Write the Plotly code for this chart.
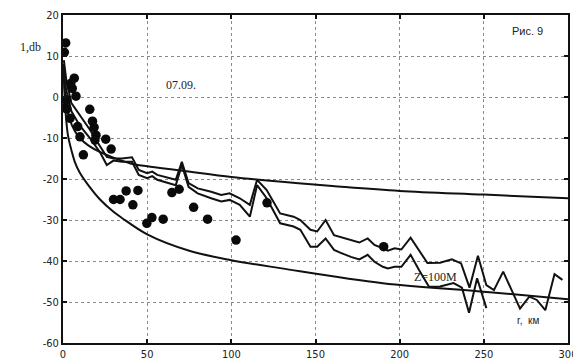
import plotly.graph_objects as go

# Measured points: distance r (km) and level (dB)
dots_r = [1.6, 0.8, 6.7, 4.6, 5.5, 7.7, 2.2, 1.2, 4.2, 15.9, 17.5, 18.5, 8.7, 10.1,
          19.6, 19.0, 25.4, 28.6, 12.1, 2.2, 30.0, 33.9, 37.5, 41.5, 44.5, 49.8, 52.8,
          59.5, 64.7, 69.0, 77.6, 85.9, 102.8, 121.2, 190.5]
dots_v = [13.2, 10.9, 4.6, 3.3, 2.1, 0.2, -0.7, -2.6, -5.2, -3.0, -5.9, -7.4, -7.2, -9.7,
          -9.3, -10.5, -10.3, -12.7, -14.1, -2.9, -25.0, -25.0, -22.9, -26.3, -22.8, -30.8, -29.4,
          -29.8, -23.3, -22.5, -26.9, -29.8, -34.9, -25.8, -36.5]

# Upper reference curve
upper_r = [0.3, 1, 2, 4, 7, 10, 15, 20, 30, 40, 50, 70, 100, 130, 160, 200, 250, 300]
upper_v = [8.0, 2.0, -2.0, -5.5, -8.3, -10.0, -11.8, -13.0, -14.8, -16.2, -16.9, -17.9,
           -19.5, -20.7, -21.7, -22.9, -23.8, -24.7]

# Lower reference curve
lower_r = [0.3, 1, 2, 3, 5, 7, 10, 15, 22, 30, 35, 50, 75, 100, 130, 190, 250, 300]
lower_v = [8.0, 0.0, -6.0, -9.5, -13.0, -15.8, -18.5, -21.5, -25.0, -28.0, -29.5, -33.5,
           -37.5, -39.8, -41.8, -45.4, -47.5, -49.3]

# Computed level, upper branch
calc1_r = [0.5, 2, 5, 10, 16, 22, 26, 30, 35, 41, 45, 50, 53, 56, 67, 70.6, 74.6, 80, 88,
           94, 99, 105, 111, 115.3, 121, 129, 137, 141, 147, 151, 156, 161, 165, 171, 176,
           181, 185, 190, 193, 197, 201, 206.5, 211.5, 216.5, 224, 231, 236.5, 241.5, 246.5,
           251.5, 256, 261.5, 271.5, 277, 281.5, 286.5, 292, 296.7]
calc1_v = [9.0, 4.0, -1.5, -4.5, -8.0, -12.0, -14.6, -15.0, -15.0, -14.7, -17.8, -18.6,
           -18.2, -19.0, -20.2, -15.8, -21.0, -22.3, -23.1, -23.9, -23.5, -24.7, -26.3,
           -20.2, -22.7, -28.4, -29.2, -30.0, -32.4, -32.8, -30.0, -33.7, -34.2, -34.9,
           -35.5, -34.5, -36.1, -36.9, -37.5, -36.9, -37.2, -34.3, -37.3, -40.5, -40.4,
           -39.6, -40.6, -46.5, -38.7, -45.9, -47.1, -42.6, -51.6, -48.7, -49.5, -52.0,
           -43.2, -44.6]

# Computed level, lower branch (Z = 100 m)
calc2_r = [0.5, 2, 5, 10, 16, 22, 26, 30, 35, 41, 45, 50, 53, 56, 67, 70.6, 74.6, 80, 88,
           94, 99, 105, 111, 115.3, 121, 129, 137, 141, 147, 151, 156, 161, 165, 171, 176,
           181, 185, 190, 193, 197, 201, 206.5, 211.5, 217.4, 224, 232, 237, 241.2, 246,
           251.5]
calc2_v = [6.0, 1.5, -3.5, -7.0, -10.0, -13.5, -16.6, -15.5, -15.8, -15.8, -19.0, -19.8,
           -19.3, -20.2, -21.5, -16.6, -21.9, -23.5, -24.7, -25.5, -25.1, -26.3, -29.2,
           -21.5, -24.7, -30.8, -31.6, -32.4, -36.5, -36.5, -34.5, -37.3, -38.0, -39.0,
           -39.6, -38.5, -40.2, -41.4, -41.8, -41.4, -41.4, -38.5, -42.2, -46.3, -46.2,
           -45.4, -46.5, -52.6, -44.2, -51.5]

x_ticks = [0, 50, 100, 150, 200, 250, 300]
y_ticks = [20, 10, 0, -10, -20, -30, -40, -50, -60]

fig = go.Figure()

line_style = dict(color="#111111", width=2)
fig.add_trace(go.Scatter(x=upper_r, y=upper_v, mode="lines", line=dict(shape="spline", **line_style)))
fig.add_trace(go.Scatter(x=lower_r, y=lower_v, mode="lines", line=dict(shape="spline", **line_style)))
fig.add_trace(go.Scatter(x=calc1_r, y=calc1_v, mode="lines", line=line_style))
fig.add_trace(go.Scatter(x=calc2_r, y=calc2_v, mode="lines", line=line_style))
fig.add_trace(go.Scatter(x=dots_r, y=dots_v, mode="markers",
                         marker=dict(color="#0a0a0a", size=9.5, line=dict(width=0))))

serif = "Liberation Serif, Times New Roman, serif"
sans = "Liberation Sans, Arial, sans-serif"

fig.add_annotation(x=-0.09, xref="paper", y=12.2, yref="y", text="1,db", showarrow=False,
                   font=dict(family=serif, size=12, color="#222"))
fig.add_annotation(x=70.2, y=2.9, text="07.09.", showarrow=False,
                   font=dict(family=serif, size=12, color="#222"))
fig.add_annotation(x=276, y=16.1, text="Рис. 9", showarrow=False,
                   font=dict(family=sans, size=11, color="#222"))
fig.add_annotation(x=221, y=-43.9, text="Z=100M", showarrow=False,
                   font=dict(family=serif, size=12, color="#222"))
fig.add_annotation(x=276, y=-54.4, text="r,  км", showarrow=False,
                   font=dict(family=sans, size=10, color="#222"))

axis_common = dict(
    showgrid=True, gridcolor="#8a8a8a", griddash="dot", gridwidth=1,
    zeroline=False, showline=True, linecolor="#111", linewidth=2, mirror="ticks",
    ticks="inside", ticklen=4, tickcolor="#111", tickwidth=1.5,
    tickfont=dict(family="Liberation Sans Narrow, DejaVu Sans Condensed, Arial, sans-serif",
                  size=11, color="#222"),
    automargin=False, ticklabeloverflow="allow",
)

fig.update_xaxes(range=[0, 300], tickvals=x_ticks, ticktext=[str(v) for v in x_ticks], **axis_common)
fig.update_yaxes(range=[-60, 20], tickvals=y_ticks, ticktext=[str(v) for v in y_ticks], **axis_common)

fig.update_layout(
    width=573, height=361,
    margin=dict(l=63, r=5, t=15, b=18),
    paper_bgcolor="white", plot_bgcolor="white",
    showlegend=False,
)

fig.write_html("out.html")
